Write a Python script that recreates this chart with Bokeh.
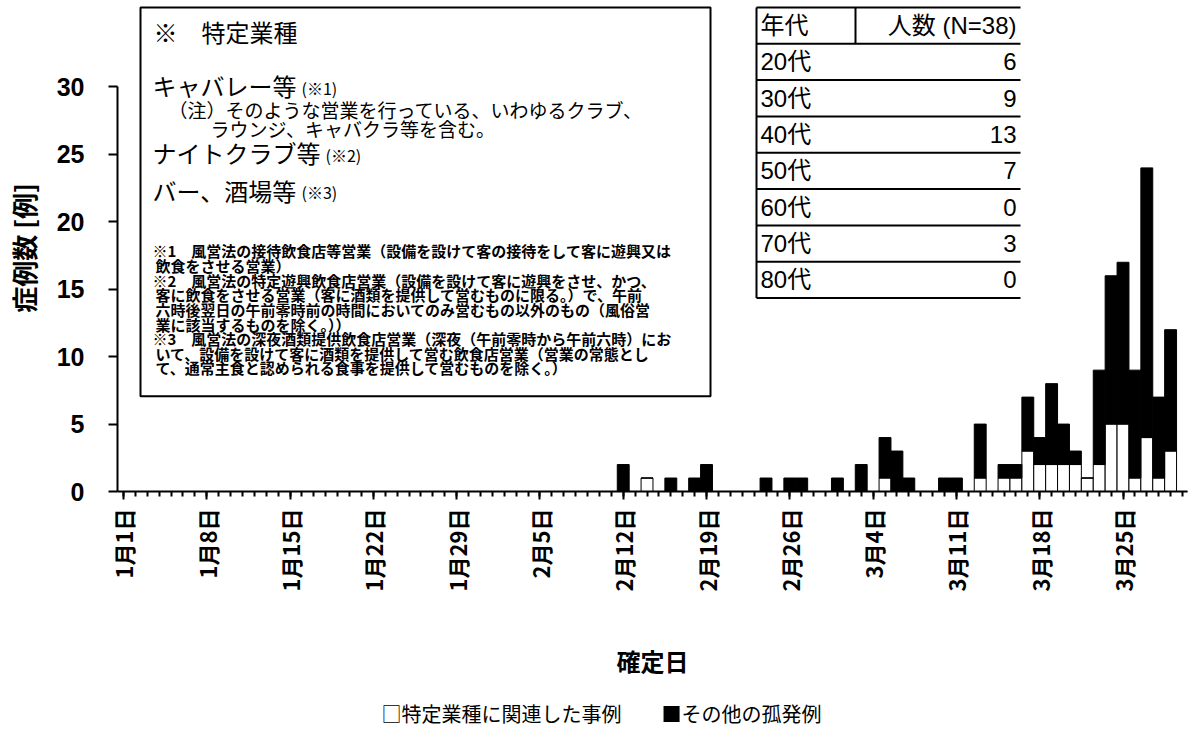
import numpy as np
from bokeh.plotting import figure
from bokeh.models import ColumnDataSource, Range1d, FixedTicker, Title
from bokeh.core.properties import value
from bokeh.embed import file_html
from bokeh.resources import INLINE

# ---------------- data ----------------
# day index 0 = 1月1日 ... 89 = 3月30日 (2020)
days = list(range(90))
related = [  # 特定業種に関連した事例 (white)
    0, 0, 0, 0, 0, 0, 0,
    0, 0, 0, 0, 0, 0, 0,
    0, 0, 0, 0, 0, 0, 0,
    0, 0, 0, 0, 0, 0, 0,
    0, 0, 0, 0, 0, 0, 0,
    0, 0, 0, 0, 0, 0, 0,
    0, 0, 1, 0, 0, 0, 0,
    0, 0, 0, 0, 0, 0, 0,
    0, 0, 0, 0, 0, 0, 0,
    0, 1, 0, 0, 0, 0, 0,
    0, 0, 1, 0, 1, 1, 3,
    2, 2, 2, 2, 1, 2, 5,
    5, 1, 4, 1, 3, 0,
]
other = [  # その他の孤発例 (black)
    0, 0, 0, 0, 0, 0, 0,
    0, 0, 0, 0, 0, 0, 0,
    0, 0, 0, 0, 0, 0, 0,
    0, 0, 0, 0, 0, 0, 0,
    0, 0, 0, 0, 0, 0, 0,
    0, 0, 0, 0, 0, 0, 0,
    2, 0, 0, 0, 1, 0, 1,
    2, 0, 0, 0, 0, 1, 0,
    1, 1, 0, 0, 1, 0, 2,
    0, 3, 3, 1, 0, 0, 1,
    1, 0, 4, 0, 1, 1, 4,
    2, 6, 3, 1, 0, 7, 11,
    12, 8, 20, 6, 9, 0,
]
series_names = ["特定業種に関連した事例", "その他の孤発例"]
legend_marks = ["□", "■"]
tick_days = [0, 7, 14, 21, 28, 35, 42, 49, 56, 63, 70, 77, 84]
tick_labels = ["1月1日", "1月8日", "1月15日", "1月22日", "1月29日", "2月5日",
               "2月12日", "2月19日", "2月26日", "3月4日", "3月11日", "3月18日", "3月25日"]
y_ticks = [0, 5, 10, 15, 20, 25, 30]

age_header = ["年代", "人数 (N=38)"]
age_groups = ["20代", "30代", "40代", "50代", "60代", "70代", "80代"]
age_counts = [6, 9, 13, 7, 0, 3, 0]

box_title = "※　特定業種"
box_items = ["キャバレー等", "ナイトクラブ等", "バー、酒場等"]
box_item_refs = ["(※1)", "(※2)", "(※3)"]
box_note = ["（注）そのような営業を行っている、いわゆるクラブ、",
            "ラウンジ、キャバクラ等を含む。"]
box_footnotes = [
    "※1　風営法の接待飲食店等営業（設備を設けて客の接待をして客に遊興又は",
    "飲食をさせる営業）",
    "※2　風営法の特定遊興飲食店営業（設備を設けて客に遊興をさせ、かつ、",
    "客に飲食をさせる営業（客に酒類を提供して営むものに限る。）で、午前",
    "六時後翌日の午前零時前の時間においてのみ営むもの以外のもの（風俗営",
    "業に該当するものを除く。））",
    "※3　風営法の深夜酒類提供飲食店営業（深夜（午前零時から午前六時）にお",
    "いて、設備を設けて客に酒類を提供して営む飲食店営業（営業の常態とし",
    "て、通常主食と認められる食事を提供して営むものを除く。）",
]

# ---------------- geometry (page pixels) ----------------
W, H = 1190, 742
FRAME_L, FRAME_R, FRAME_T, FRAME_B = 117, 1187, 4, 500
PX_DAY = (FRAME_R - FRAME_L) / 89.92
PX_UNIT = 412 / 30
X0 = -0.5
X1 = X0 + (FRAME_R - FRAME_L) / PX_DAY
Y1 = (FRAME_B - FRAME_T) / PX_UNIT


def dx(px):
    return X0 + (px - FRAME_L) / PX_DAY


def dy(py):
    return (FRAME_B - py) / PX_UNIT


JP = "Noto Sans CJK JP"
SANS = "Liberation Sans"

p = figure(width=W, height=H, x_range=Range1d(X0, X1), y_range=Range1d(0, Y1),
           output_backend="svg", toolbar_location=None,
           min_border_left=FRAME_L, min_border_right=W - FRAME_R,
           min_border_top=FRAME_T, min_border_bottom=H - FRAME_B)
p.outline_line_color = None
p.grid.visible = False
p.background_fill_color = "white"
p.border_fill_color = "white"

# ---------------- bars ----------------
src = ColumnDataSource(dict(day=days, related=related, other=other))
rs = p.vbar_stack(["related", "other"], x="day", width=1.0, source=src,
                  fill_color=["white", "black"], line_color="black", line_width=1)

# ---------------- axes ----------------
xa = p.xaxis[0]
xa.ticker = FixedTicker(ticks=tick_days, minor_ticks=days)
xa.major_label_overrides = dict(zip(tick_days, tick_labels))
xa.major_label_orientation = np.pi / 2
xa.major_label_text_font = JP
xa.major_label_text_font_style = "bold"
xa.major_label_text_font_size = "22px"
xa.major_label_text_color = "black"
xa.major_label_standoff = 9
xa.major_tick_out = 8
xa.major_tick_in = 0
xa.minor_tick_out = 5
xa.minor_tick_in = 0
xa.axis_line_width = 2
xa.major_tick_line_width = 2
xa.minor_tick_line_width = 2
xa.axis_label = "確定日"
xa.axis_label_text_font = JP
xa.axis_label_text_font_style = "bold"
xa.axis_label_text_font_size = "24px"
xa.axis_label_text_color = "black"
xa.axis_label_standoff = 49

ya = p.yaxis[0]
ya.ticker = FixedTicker(ticks=y_ticks)
ya.bounds = (0, 30)
ya.minor_tick_line_color = None
ya.major_tick_out = 9
ya.major_tick_in = 0
ya.major_tick_line_width = 2
ya.axis_line_width = 2
ya.major_label_text_font = SANS
ya.major_label_text_font_style = "bold"
ya.major_label_text_font_size = "25px"
ya.major_label_text_color = "black"
ya.major_label_standoff = 24
ya.axis_label = "症例数 [例]"
ya.axis_label_text_font = JP
ya.axis_label_text_font_style = "bold"
ya.axis_label_text_font_size = "26px"
ya.axis_label_text_color = "black"
ya.axis_label_standoff = 12

# ---------------- inset note box ----------------
p.quad(left=[dx(140)], right=[dx(710)], top=[dy(7)], bottom=[dy(403)],
       fill_color="white", line_color="black", line_width=2)


def put(texts, xs, ys, size, style="normal", align="left", font=JP):
    s = ColumnDataSource(dict(x=[dx(v) for v in xs], y=[dy(v) for v in ys], t=texts))
    p.text(x="x", y="y", text="t", source=s, text_font=value(font),
           text_font_size=size, text_font_style=style, text_align=align,
           text_baseline="middle", text_color="black")


put([box_title], [153], [31], "24px")
put(box_items, [152, 152, 152], [87, 155, 193], "24px")
put(box_item_refs, [301, 325, 301], [89, 157, 195], "16px")
put(box_note, [168, 210], [111, 130], "19px")
fn_x = [152, 155, 152, 155, 155, 155, 152, 155, 155]
fn_y = [255 + 14.9 * i for i in range(len(box_footnotes))]
put(box_footnotes, fn_x, fn_y, "15px", style="bold")

# ---------------- age table ----------------
T_L, T_M, T_R, T_TOP, ROW = 756, 855, 1020, 7, 37
n_rows = len(age_groups) + 1
hy = [T_TOP + ROW * i for i in range(n_rows + 1)]
p.segment(x0=[dx(T_L)] * len(hy), x1=[dx(T_R)] * len(hy), y0=[dy(v) for v in hy],
          y1=[dy(v) for v in hy], line_color="black", line_width=2)
p.segment(x0=[dx(T_L), dx(T_M)], x1=[dx(T_L), dx(T_M)],
          y0=[dy(hy[0]), dy(hy[0])], y1=[dy(hy[-1]), dy(hy[1])],
          line_color="black", line_width=2)
TF = SANS + ", " + JP
row_c = [T_TOP + ROW * (i + 0.5) for i in range(n_rows)]
put([age_header[0]] + age_groups, [T_L + 4] * n_rows, row_c, "24px", font=TF)
put([age_header[1]] + [str(c) for c in age_counts], [T_R - 4] * n_rows, row_c,
    "24px", align="right", font=TF)

# ---------------- legend (as a text line below the axis) ----------------
legend_text = "　　".join(m + n for m, n in zip(legend_marks, series_names))
p.add_layout(Title(text=legend_text, align="left", offset=381 - FRAME_L, standoff=30,
                   text_font=JP, text_font_size="20px", text_font_style="normal",
                   text_color="black"), "below")

open("out.html", "w").write(file_html(p, INLINE))
